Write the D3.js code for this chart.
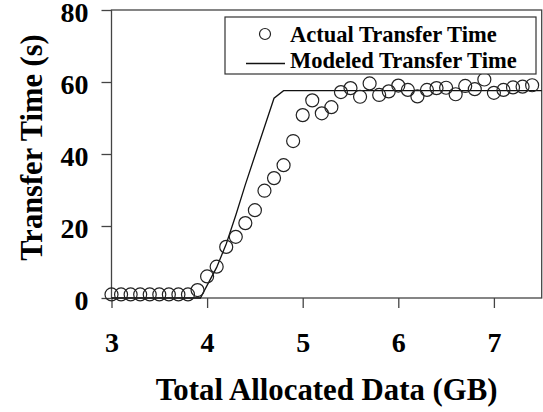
<!DOCTYPE html>
<html>
<head>
<meta charset="utf-8">
<script src="https://cdn.jsdelivr.net/npm/d3@7"></script>
<style>
  body { margin: 0; background: #fff; }
  svg text { font-family: "Liberation Serif", "Times New Roman", serif; font-weight: bold; fill: #000; }
</style>
</head>
<body>
<div class="chart"></div>
<script>
// actual measurements, one every 0.1 GB from 3.0 to 7.4
const actualX = d3.range(45).map(i => +(3 + i * 0.1).toFixed(1));
const actualY = [
  1.0, 1.0, 1.0, 1.0, 1.0, 1.0, 1.0, 1.0, 1.0, 2.2,
  6.0, 8.7, 14.2, 17.0, 20.8, 24.4, 29.8, 33.3, 36.9, 43.6,
  50.8, 54.9, 51.3, 53.0, 57.2, 58.3, 55.9, 59.6, 56.4, 57.4,
  59.0, 57.8, 56.0, 57.8, 58.3, 58.4, 56.6, 58.9, 58.0, 60.7,
  57.0, 57.8, 58.5, 58.7, 59.1
];

// modeled curve
const modelX = [3.0, 3.93, 4.0, 4.1, 4.2, 4.3, 4.4, 4.5, 4.6, 4.7, 4.8, 7.5];
const modelY = [0, 0, 3.5, 8.5, 15, 23, 31.5, 39.5, 47.5, 55.5, 57.6, 57.6];

const xTicks = [3, 4, 5, 6, 7];
const yTicks = [0, 20, 40, 60, 80];
const legendLabels = ["Actual Transfer Time", "Modeled Transfer Time"];

const margin = {top: 10, right: 1.3, bottom: 114, left: 111.5};
const width = 543 - margin.left - margin.right;
const height = 412 - margin.top - margin.bottom;

const svg = d3.select(".chart")
  .append("svg")
  .attr("width", 543)
  .attr("height", 412)
  .append("g")
  .attr("transform", "translate(" + margin.left + "," + margin.top + ")");

const x = d3.scaleLinear().domain([3, 7.5]).range([0, width]);
const y = d3.scaleLinear().domain([0, 80]).range([height, 0]);

// y axis
const yAxis = svg.append("g")
  .call(d3.axisLeft(y).tickValues(yTicks).tickSize(10).tickPadding(13));
yAxis.select(".domain").remove();
yAxis.selectAll("line").attr("stroke", "#444").attr("stroke-width", 1.3);
yAxis.selectAll("text")
  .attr("dy", "0.42em")
  .style("font-size", "28px")
  .style("font-family", "Liberation Serif")
  .style("font-weight", "bold");

// x axis
const xAxis = svg.append("g")
  .attr("transform", "translate(0," + height + ")")
  .call(d3.axisBottom(x).tickValues(xTicks).tickFormat(d3.format("d")).tickSize(10));
xAxis.select(".domain").remove();
xAxis.selectAll("line").attr("stroke", "#444").attr("stroke-width", 1.3);
xAxis.selectAll("text")
  .attr("y", 54)
  .attr("dy", 0)
  .style("font-size", "28px")
  .style("font-family", "Liberation Serif")
  .style("font-weight", "bold");

// plot frame
svg.append("rect")
  .attr("x", 0).attr("y", 0)
  .attr("width", width).attr("height", height)
  .attr("fill", "none")
  .attr("stroke", "#444")
  .attr("stroke-width", 1.3);

// axis titles
svg.append("text")
  .attr("x", width / 2)
  .attr("y", 390)
  .attr("text-anchor", "middle")
  .style("font-size", "30.8px")
  .text("Total Allocated Data (GB)");

svg.append("text")
  .attr("transform", "translate(" + (41.5 - margin.left) + "," + (147.5 - margin.top) + ") rotate(-90)")
  .attr("text-anchor", "middle")
  .style("font-size", "30.5px")
  .text("Transfer Time (s)");

// modeled line
const model = modelX.map((d, i) => ({x: d, y: modelY[i]}));
svg.append("path")
  .datum(model)
  .attr("fill", "none")
  .attr("stroke", "#111")
  .attr("stroke-width", 1.3)
  .attr("d", d3.line().x(d => x(d.x)).y(d => y(d.y)));

// actual points
const actual = actualX.map((d, i) => ({x: d, y: actualY[i]}));
svg.selectAll(".pt")
  .data(actual)
  .enter()
  .append("circle")
  .attr("class", "pt")
  .attr("cx", d => x(d.x))
  .attr("cy", d => y(d.y))
  .attr("r", 6.5)
  .attr("fill", "none")
  .attr("stroke", "#222")
  .attr("stroke-width", 1.2);

// legend
const legend = svg.append("g").attr("transform", "translate(" + (225 - margin.left) + "," + (17 - margin.top) + ")");
legend.append("rect")
  .attr("width", 311).attr("height", 57)
  .attr("fill", "#fff")
  .attr("stroke", "#333")
  .attr("stroke-width", 1.2);
legend.append("circle")
  .attr("cx", 40).attr("cy", 17).attr("r", 5.5)
  .attr("fill", "none").attr("stroke", "#222").attr("stroke-width", 1.2);
legend.append("line")
  .attr("x1", 21).attr("x2", 60).attr("y1", 46.5).attr("y2", 46.5)
  .attr("stroke", "#111").attr("stroke-width", 1.3);
legend.selectAll(".lbl")
  .data(legendLabels)
  .enter()
  .append("text")
  .attr("x", 65)
  .attr("y", (d, i) => 24.7 + i * 26.6)
  .style("font-size", "22.5px")
  .text(d => d);
</script>
</body>
</html>
